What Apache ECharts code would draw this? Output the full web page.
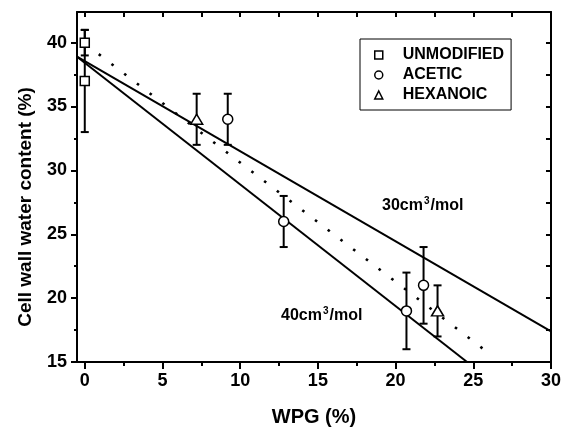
<!DOCTYPE html>
<html>
<head>
<meta charset="utf-8">
<script src="https://cdn.jsdelivr.net/npm/echarts@6/dist/echarts.min.js"></script>
<style>
html,body{margin:0;padding:0;background:#fff;}
#chart{width:564px;height:432px;}
</style>
</head>
<body>
<div id="chart"></div>
<script>
// ---- data ----
const unmodX = [0, 0];
const unmodY = [40, 37];
const unmodErr = [1, 4];

const aceticX = [9.2, 12.8, 20.7, 21.8];
const aceticY = [34, 26, 19, 21];
const aceticErr = [2, 2, 3, 3];

const hexX = [7.2, 22.7];
const hexY = [34, 19];
const hexErr = [2, 2];

const line30X = [-0.5, 30];
const line30Y = [38.9, 17.4];
const line40X = [-0.5, 24.6];
const line40Y = [38.9, 15];
const dottedX = [0.9, 26.2];
const dottedY = [39.1, 15.5];

const xMajor = [0, 5, 10, 15, 20, 25, 30];
const xMinor = [2.5, 7.5, 12.5, 17.5, 22.5, 27.5];
const yMajor = [15, 20, 25, 30, 35, 40];
const yMinor = [17.5, 22.5, 27.5, 32.5, 37.5];

const seriesNames = ['UNMODIFIED', 'ACETIC', 'HEXANOIC'];
const xTitle = 'WPG (%)';
const yTitle = 'Cell wall water content (%)';
const note30 = ['30cm', '3', '/mol'];
const note40 = ['40cm', '3', '/mol'];

// ---- helpers ----
const FONT = 'Liberation Sans, Arial, sans-serif';
const pts = (xs, ys) => xs.map((x, i) => [x, ys[i]]);
const errs = (xs, ys, es) => xs.map((x, i) => [x, ys[i] - es[i], ys[i] + es[i]]);
const allX = xMajor.concat(xMinor).sort((a, b) => a - b);
const allY = yMajor.concat(yMinor).sort((a, b) => a - b);
const X_MIN = -0.5, X_MAX = 30, Y_MIN = 15, Y_MAX = 42.4;

function xAx(pos, ticks, len, inside, showLine, labels) {
  return {
    type: 'value', position: pos, min: X_MIN, max: X_MAX,
    axisLine: {show: showLine, onZero: false, lineStyle: {color: '#000', width: 2}},
    axisTick: {show: true, inside: inside, length: len, customValues: ticks, lineStyle: {color: '#000', width: 2}},
    axisLabel: labels ? {show: true, customValues: xMajor, fontSize: 18, fontWeight: 'bold', color: '#000', fontFamily: FONT, margin: 10} : {show: false},
    splitLine: {show: false}
  };
}
function yAx(pos, ticks, len, inside, showLine, labels) {
  return {
    type: 'value', position: pos, min: Y_MIN, max: Y_MAX,
    axisLine: {show: showLine, onZero: false, lineStyle: {color: '#000', width: 2}},
    axisTick: {show: true, inside: inside, length: len, customValues: ticks, lineStyle: {color: '#000', width: 2}},
    axisLabel: labels ? {show: true, customValues: yMajor, fontSize: 18, fontWeight: 'bold', color: '#000', fontFamily: FONT, margin: 10} : {show: false},
    splitLine: {show: false}
  };
}

const xAxes = [
  Object.assign(xAx('bottom', xMajor, 7, false, true, true), {
    name: xTitle, nameLocation: 'middle', nameGap: 45,
    nameTextStyle: {fontSize: 20, fontWeight: 'bold', color: '#000', fontFamily: FONT}
  }),
  xAx('bottom', xMinor, 4, false, false, false),
  xAx('top', allX, 5, true, true, false)
];
const yAxes = [
  Object.assign(yAx('left', yMajor, 6, false, true, true), {
    name: yTitle, nameLocation: 'middle', nameGap: 42,
    nameTextStyle: {fontSize: 19, fontWeight: 'bold', color: '#000', fontFamily: FONT, padding: [0, 40, 0, 0]}
  }),
  yAx('left', yMinor, 3, false, false, false),
  yAx('right', allY, 5, true, true, false)
];

function errorBar(params, api) {
  const x = api.value(0), lo = api.value(1), hi = api.value(2);
  const a = api.coord([x, lo]), b = api.coord([x, hi]);
  const w = 4;
  const st = {stroke: '#000', lineWidth: 2};
  return {
    type: 'group',
    children: [
      {type: 'line', shape: {x1: a[0], y1: a[1], x2: b[0], y2: b[1]}, style: st},
      {type: 'line', shape: {x1: a[0] - w, y1: a[1], x2: a[0] + w, y2: a[1]}, style: st},
      {type: 'line', shape: {x1: b[0] - w, y1: b[1], x2: b[0] + w, y2: b[1]}, style: st}
    ]
  };
}
function errSeries(data) {
  return {type: 'custom', renderItem: errorBar, data: data, encode: {x: 0, y: [1, 2]}, z: 3, silent: true};
}
const markStyle = {color: '#fff', borderColor: '#000', borderWidth: 1.5, opacity: 1};
function lineSeries(data, type) {
  return {
    type: 'line', data: data, showSymbol: false, symbol: 'none', silent: true, z: 2,
    lineStyle: {color: '#000', width: type === 'dot' ? 2.6 : 2, type: type === 'dot' ? [2.6, 13.43] : 'solid', cap: 'butt'}
  };
}
function note(parts, left, top) {
  return {
    type: 'text', left: left, top: top,
    style: {
      text: '{a|' + parts[0] + '}{s|' + parts[1] + '}{a|' + parts[2] + '}',
      rich: {
        a: {font: 'bold 16px ' + FONT, fill: '#000', lineHeight: 18, verticalAlign: 'bottom'},
        s: {font: 'bold 10px ' + FONT, fill: '#000', lineHeight: 18, verticalAlign: 'top', padding: [0, 1, 0, 1]}
      }
    }
  };
}

const chart = echarts.init(document.getElementById('chart'), null, {renderer: 'canvas'});
chart.setOption({
  animation: false,
  backgroundColor: '#fff',
  grid: {left: 77, right: 11, top: 12, bottom: 67, containLabel: false},
  xAxis: xAxes,
  yAxis: yAxes,
  legend: {
    orient: 'vertical', left: 360, top: 39,
    data: seriesNames,
    itemWidth: 8, itemHeight: 8, itemGap: 4,
    padding: [8, 7, 7, 14],
    borderColor: '#000', borderWidth: 1,
    selectedMode: false,
    itemStyle: {color: '#fff', borderColor: '#000', borderWidth: 1.5, opacity: 1},
    textStyle: {fontSize: 16, fontWeight: 'bold', color: '#000', fontFamily: FONT, lineHeight: 16, padding: [0, 0, 0, 15]}
  },
  graphic: [
    note(note30, 382, 196),
    note(note40, 281, 306)
  ],
  series: [
    lineSeries(pts(line30X, line30Y), 'solid'),
    lineSeries(pts(line40X, line40Y), 'solid'),
    lineSeries(pts(dottedX, dottedY), 'dot'),
    errSeries(errs(unmodX, unmodY, unmodErr)),
    errSeries(errs(aceticX, aceticY, aceticErr)),
    errSeries(errs(hexX, hexY, hexErr)),
    {name: seriesNames[0], type: 'scatter', symbol: 'rect', symbolSize: 9, data: pts(unmodX, unmodY), itemStyle: markStyle, z: 5},
    {name: seriesNames[1], type: 'scatter', symbol: 'circle', symbolSize: 10, data: pts(aceticX, aceticY), itemStyle: markStyle, z: 5},
    {name: seriesNames[2], type: 'scatter', symbol: 'triangle', symbolSize: [12, 10], data: pts(hexX, hexY), itemStyle: markStyle, z: 5}
  ]
});
</script>
</body>
</html>
